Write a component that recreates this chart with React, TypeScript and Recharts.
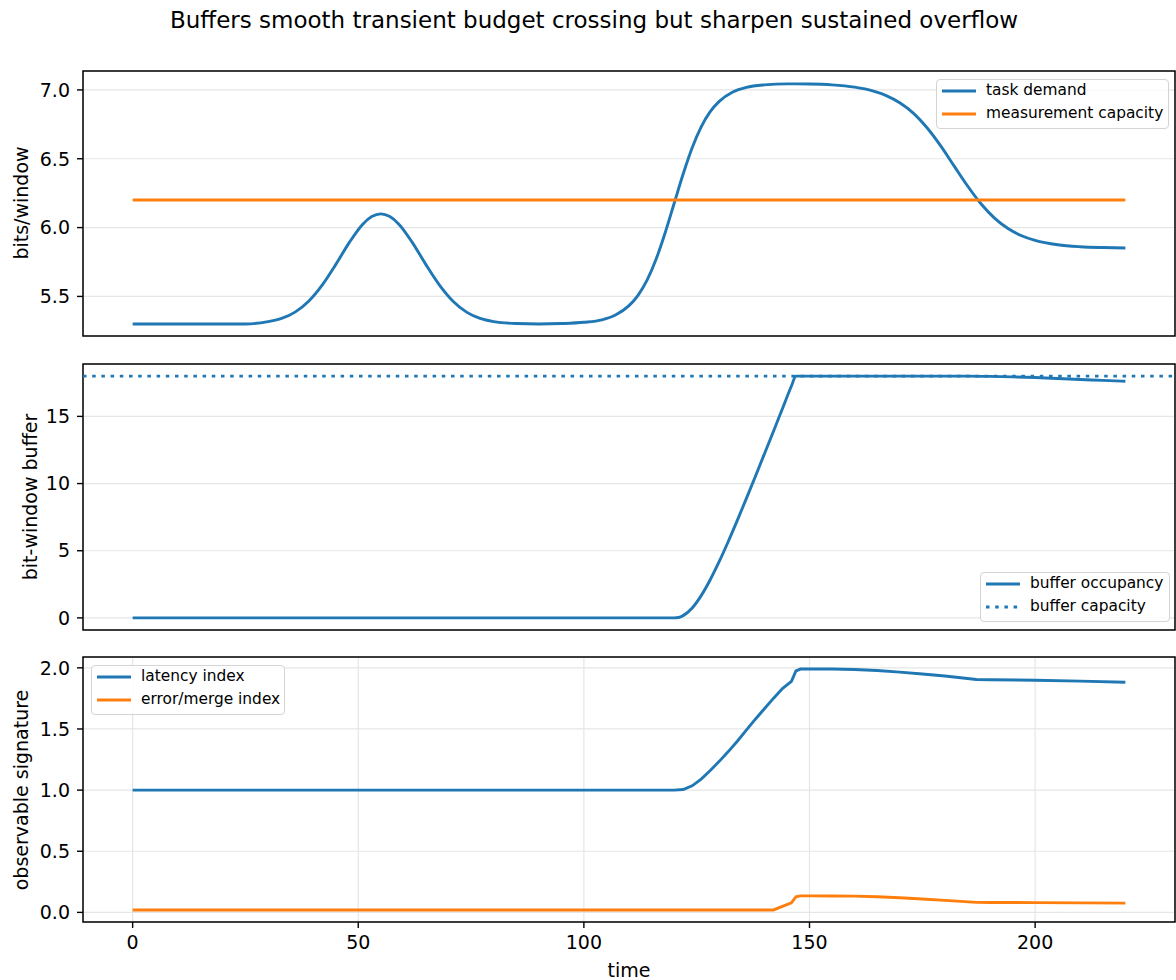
import React from "react";
import { CartesianGrid, Line, LineChart, ReferenceArea, ReferenceLine, XAxis, YAxis } from "recharts";

// panel 1: demand vs capacity
const demandTime = [0, 10, 20, 25, 30, 33, 36, 39, 42, 45, 48, 51, 53, 55, 57, 59, 62, 65, 68, 71, 74, 77, 80, 85, 90, 95, 100, 104, 107, 110, 112, 114, 116, 118, 120, 122, 124, 126, 128, 130, 133, 136, 140, 145, 150, 155, 160, 164, 167, 170, 173, 176, 179, 182, 185, 188, 191, 194, 197, 200, 205, 210, 215, 220];
const taskDemand = [5.3, 5.3, 5.3, 5.3, 5.317, 5.34, 5.386, 5.465, 5.582, 5.731, 5.891, 6.025, 6.08, 6.1, 6.08, 6.025, 5.891, 5.731, 5.582, 5.465, 5.386, 5.34, 5.317, 5.303, 5.3, 5.303, 5.312, 5.33, 5.365, 5.433, 5.508, 5.618, 5.77, 5.961, 6.175, 6.389, 6.58, 6.732, 6.842, 6.917, 6.985, 7.019, 7.037, 7.044, 7.043, 7.037, 7.02, 6.993, 6.959, 6.907, 6.832, 6.727, 6.597, 6.45, 6.304, 6.173, 6.069, 5.993, 5.941, 5.907, 5.875, 5.861, 5.855, 5.852];
const capacityTime = [0, 220];
const measurementCapacity = [6.2, 6.2];

// panel 2: buffer
const bufferTime = [0, 50, 100, 120, 121, 122, 124, 126, 128, 130, 132, 134, 136, 138, 140, 142, 144, 146, 147, 150, 160, 170, 180, 185, 190, 195, 200, 205, 210, 215, 220];
const bufferOccupancy = [0, 0, 0, 0, 0.03, 0.17, 0.74, 1.66, 2.84, 4.2, 5.69, 7.26, 8.88, 10.53, 12.2, 13.88, 15.57, 17.26, 18, 18, 18, 18, 18, 18, 17.98, 17.94, 17.89, 17.82, 17.75, 17.68, 17.62];
const bufferCapacity = 18;

// panel 3: observable signature
const signalTime = [0, 50, 100, 120, 122, 124, 126, 128, 130, 132, 134, 136, 138, 140, 142, 144, 146, 147, 148, 150, 155, 160, 165, 170, 175, 180, 187, 190, 200, 210, 220];
const latencyIndex = [1, 1, 1, 1, 1.005, 1.035, 1.09, 1.16, 1.235, 1.315, 1.4, 1.49, 1.58, 1.665, 1.75, 1.83, 1.89, 1.975, 1.99, 1.99, 1.99, 1.986, 1.978, 1.965, 1.95, 1.933, 1.905, 1.903, 1.898, 1.891, 1.882];
const errorMergeIndex = [0.02, 0.02, 0.02, 0.02, 0.02, 0.02, 0.02, 0.02, 0.02, 0.02, 0.02, 0.02, 0.02, 0.02, 0.02, 0.05, 0.078, 0.128, 0.135, 0.135, 0.134, 0.133, 0.128, 0.12, 0.11, 0.098, 0.082, 0.081, 0.08, 0.078, 0.076];

const xTicks = [0, 50, 100, 150, 200];
const demandTicks = [5.5, 6.0, 6.5, 7.0];
const bufferTicks = [0, 5, 10, 15];
const signalTicks = [0, 0.5, 1.0, 1.5, 2.0];

const X_DOMAIN: [number, number] = [-11, 231];
const BLUE = "#1f77b4";
const ORANGE = "#ff7f0e";
const FONT = '"DejaVu Sans", sans-serif';
const W = 1176;
const H = 980;
const LW = 2.9;

const demandRows = demandTime.map((t, i) => ({ t, v: taskDemand[i] }));
const capacityRows = capacityTime.map((t, i) => ({ t, v: measurementCapacity[i] }));
const bufferRows = bufferTime.map((t, i) => ({ t, v: bufferOccupancy[i] }));
const signalRows = signalTime.map((t, i) => ({ t, lat: latencyIndex[i], err: errorMergeIndex[i] }));

const tickStyle = { fill: "#000", fontSize: 19, fontFamily: FONT };
const tickLineStyle = { stroke: "#000", strokeWidth: 1.4 };

type Item = { label: string; color: string; dotted?: boolean };

const LegendBox = ({ left, top, width, items }: { left: number; top: number; width: number; items: Item[] }) => (
  <div
    style={{
      position: "absolute",
      left,
      top,
      width,
      height: 50,
      boxSizing: "border-box",
      border: "1px solid #d4d4d4",
      borderRadius: 4,
      background: "rgba(255,255,255,0.85)",
      fontFamily: FONT,
      fontSize: 15.4,
      color: "#000"
    }}
  >
    {items.map((it, i) => (
      <div key={it.label} style={{ position: "absolute", left: 0, top: 11 + i * 23, width: "100%" }}>
        <svg width={34} height={6} style={{ position: "absolute", left: 5, top: -3 }}>
          <line x1={0} x2={34} y1={3} y2={3} stroke={it.color} strokeWidth={LW} strokeDasharray={it.dotted ? "3.5 5.7" : undefined} />
        </svg>
        <div style={{ position: "absolute", left: 49, top: 0, transform: "translateY(-50%)", lineHeight: 1, whiteSpace: "nowrap" }}>
          {it.label}
        </div>
      </div>
    ))}
  </div>
);

const YLabel = ({ text, cx, cy }: { text: string; cx: number; cy: number }) => (
  <div
    style={{
      position: "absolute",
      left: cx,
      top: cy,
      transform: "translate(-50%, -50%) rotate(-90deg)",
      fontFamily: FONT,
      fontSize: 19,
      lineHeight: 1,
      whiteSpace: "nowrap",
      color: "#000"
    }}
  >
    {text}
  </div>
);

const Frame = ({ lo, hi }: { lo: number; hi: number }) => (
  <ReferenceArea
    x1={X_DOMAIN[0]}
    x2={X_DOMAIN[1]}
    y1={lo}
    y2={hi}
    fill="none"
    fillOpacity={0}
    stroke="#000"
    strokeOpacity={1}
    strokeWidth={1.5}
    ifOverflow="visible"
  />
);

const layer: React.CSSProperties = { position: "absolute", left: 0, top: 0 };

export default function App() {
  return (
    <div style={{ position: "absolute", left: 0, top: 0, width: W, height: H, background: "#fff", overflow: "hidden" }}>
      <div
        style={{
          position: "absolute",
          left: 594,
          top: 20,
          transform: "translate(-50%, -50%)",
          fontFamily: FONT,
          fontSize: 23,
          lineHeight: 1,
          whiteSpace: "nowrap",
          color: "#000"
        }}
      >
        Buffers smooth transient budget crossing but sharpen sustained overflow
      </div>

      {/* panel 1 */}
      <div style={layer}>
        <LineChart width={W} height={H} margin={{ top: 71, right: 1, bottom: 634, left: 13 }}>
          <CartesianGrid stroke="#e6e6e6" strokeWidth={1.2} />
          <XAxis dataKey="t" type="number" domain={X_DOMAIN} ticks={xTicks} allowDataOverflow height={10} tick={false} tickSize={6} axisLine={false} tickLine={tickLineStyle} />
          <YAxis type="number" domain={[5.2125, 7.1375]} ticks={demandTicks} allowDataOverflow width={70} tickSize={6} tickMargin={7} axisLine={false} tickLine={tickLineStyle} tick={tickStyle} tickFormatter={(v: number) => v.toFixed(1)} />
          <Line data={demandRows} dataKey="v" type="monotone" stroke={BLUE} strokeWidth={LW} dot={false} activeDot={false} isAnimationActive={false} />
          <Line data={capacityRows} dataKey="v" type="linear" stroke={ORANGE} strokeWidth={LW} dot={false} activeDot={false} isAnimationActive={false} />
          <Frame lo={5.2125} hi={7.1375} />
        </LineChart>
      </div>

      {/* panel 2 */}
      <div style={layer}>
        <LineChart width={W} height={H} data={bufferRows} margin={{ top: 364, right: 1, bottom: 340, left: 13 }}>
          <CartesianGrid stroke="#e6e6e6" strokeWidth={1.2} />
          <XAxis dataKey="t" type="number" domain={X_DOMAIN} ticks={xTicks} allowDataOverflow height={10} tick={false} tickSize={6} axisLine={false} tickLine={tickLineStyle} />
          <YAxis type="number" domain={[-0.9, 18.9]} ticks={bufferTicks} allowDataOverflow width={70} tickSize={6} tickMargin={7} axisLine={false} tickLine={tickLineStyle} tick={tickStyle} />
          <ReferenceLine y={bufferCapacity} stroke={BLUE} strokeWidth={LW} strokeDasharray="3.5 5.7" />
          <Line dataKey="v" type="monotone" stroke={BLUE} strokeWidth={LW} dot={false} activeDot={false} isAnimationActive={false} />
          <Frame lo={-0.9} hi={18.9} />
        </LineChart>
      </div>

      {/* panel 3 */}
      <div style={layer}>
        <LineChart width={W} height={H} data={signalRows} margin={{ top: 657, right: 1, bottom: 8, left: 13 }}>
          <CartesianGrid stroke="#e6e6e6" strokeWidth={1.2} />
          <XAxis dataKey="t" type="number" domain={X_DOMAIN} ticks={xTicks} allowDataOverflow height={50} tickSize={6} tickMargin={8} axisLine={false} tickLine={tickLineStyle} tick={tickStyle} />
          <YAxis type="number" domain={[-0.0785, 2.0885]} ticks={signalTicks} allowDataOverflow width={70} tickSize={6} tickMargin={7} axisLine={false} tickLine={tickLineStyle} tick={tickStyle} tickFormatter={(v: number) => v.toFixed(1)} />
          <Line dataKey="lat" type="linear" stroke={BLUE} strokeWidth={LW} dot={false} activeDot={false} isAnimationActive={false} />
          <Line dataKey="err" type="linear" stroke={ORANGE} strokeWidth={LW} dot={false} activeDot={false} isAnimationActive={false} />
          <Frame lo={-0.0785} hi={2.0885} />
        </LineChart>
      </div>

      <YLabel text="bits/window" cx={21} cy={203} />
      <YLabel text="bit-window buffer" cx={30} cy={497} />
      <YLabel text="observable signature" cx={21} cy={790} />
      <div
        style={{
          position: "absolute",
          left: 629,
          top: 970,
          transform: "translate(-50%, -50%)",
          fontFamily: FONT,
          fontSize: 19,
          lineHeight: 1,
          color: "#000"
        }}
      >
        time
      </div>

      <LegendBox
        left={936}
        top={79}
        width={233}
        items={[
          { label: "task demand", color: BLUE },
          { label: "measurement capacity", color: ORANGE }
        ]}
      />
      <LegendBox
        left={980}
        top={572}
        width={190}
        items={[
          { label: "buffer occupancy", color: BLUE },
          { label: "buffer capacity", color: BLUE, dotted: true }
        ]}
      />
      <LegendBox
        left={91}
        top={665}
        width={194}
        items={[
          { label: "latency index", color: BLUE },
          { label: "error/merge index", color: ORANGE }
        ]}
      />
    </div>
  );
}
